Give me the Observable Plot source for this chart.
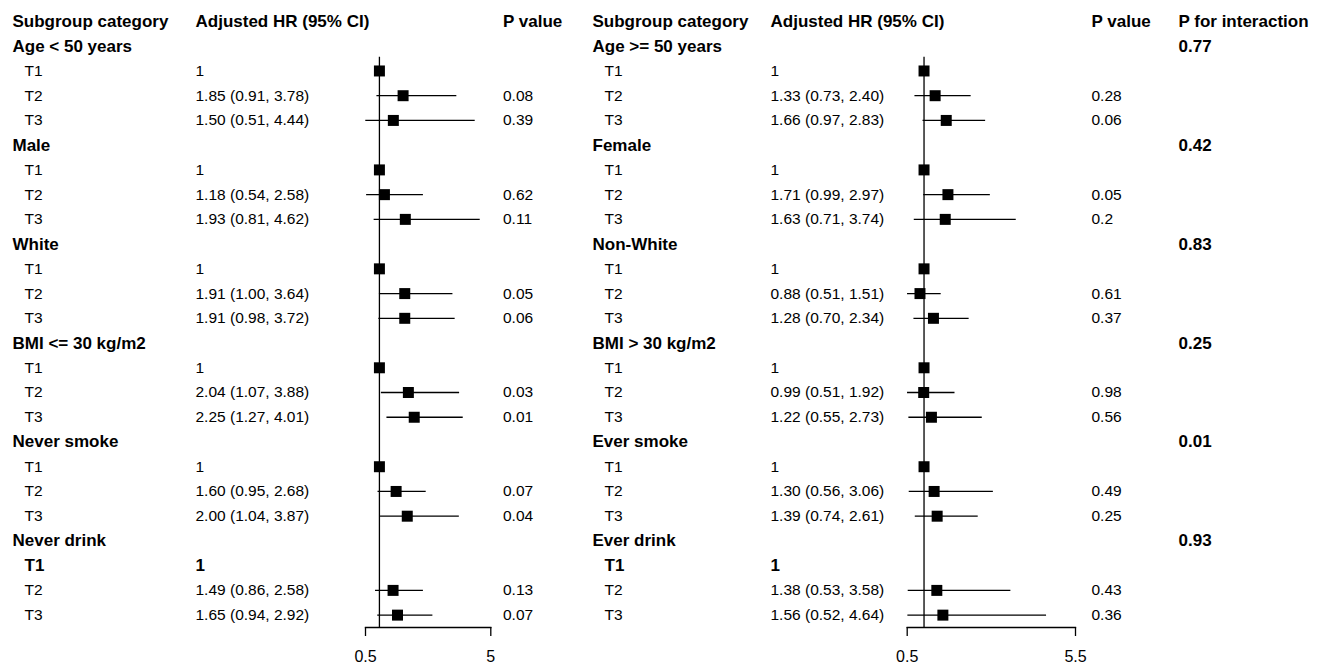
<!DOCTYPE html>
<html>
<head>
<meta charset="utf-8">
<script src="https://cdn.jsdelivr.net/npm/d3@7"></script>
<script src="https://cdn.jsdelivr.net/npm/@observablehq/plot@0.6"></script>
<style>
  html, body { margin: 0; padding: 0; background: #fff; }
  #wrap { display: flex; width: 1323px; height: 668px; }
  svg { font-family: "Liberation Sans", Arial, Helvetica, sans-serif; }
</style>
</head>
<body>
<div id="wrap"></div>
<script>
// ---------------- data ----------------
const headers = ["Subgroup category", "Adjusted HR (95% CI)", "P value", "P for interaction"];
const levels = ["T1", "T2", "T3"];

const leftGroups = ["Age < 50 years", "Male", "White", "BMI <= 30 kg/m2", "Never smoke", "Never drink"];
const leftHR   = [[1, 1.85, 1.50], [1, 1.18, 1.93], [1, 1.91, 1.91], [1, 2.04, 2.25], [1, 1.60, 2.00], [1, 1.49, 1.65]];
const leftLow  = [[null, 0.91, 0.51], [null, 0.54, 0.81], [null, 1.00, 0.98], [null, 1.07, 1.27], [null, 0.95, 1.04], [null, 0.86, 0.94]];
const leftHigh = [[null, 3.78, 4.44], [null, 2.58, 4.62], [null, 3.64, 3.72], [null, 3.88, 4.01], [null, 2.68, 3.87], [null, 2.58, 2.92]];
const leftP    = [["", "0.08", "0.39"], ["", "0.62", "0.11"], ["", "0.05", "0.06"], ["", "0.03", "0.01"], ["", "0.07", "0.04"], ["", "0.13", "0.07"]];

const rightGroups = ["Age >= 50 years", "Female", "Non-White", "BMI > 30 kg/m2", "Ever smoke", "Ever drink"];
const rightHR   = [[1, 1.33, 1.66], [1, 1.71, 1.63], [1, 0.88, 1.28], [1, 0.99, 1.22], [1, 1.30, 1.39], [1, 1.38, 1.56]];
const rightLow  = [[null, 0.73, 0.97], [null, 0.99, 0.71], [null, 0.51, 0.70], [null, 0.51, 0.55], [null, 0.56, 0.74], [null, 0.53, 0.52]];
const rightHigh = [[null, 2.40, 2.83], [null, 2.97, 3.74], [null, 1.51, 2.34], [null, 1.92, 2.73], [null, 3.06, 2.61], [null, 3.58, 4.64]];
const rightP    = [["", "0.28", "0.06"], ["", "0.05", "0.2"], ["", "0.61", "0.37"], ["", "0.98", "0.56"], ["", "0.49", "0.25"], ["", "0.43", "0.36"]];

const pInteraction = ["0.77", "0.42", "0.83", "0.25", "0.01", "0.93"];

const leftTicks = [0.5, 5];
const rightTicks = [0.5, 5.5];

// groups whose reference (T1) row is printed bold and has no marker
const noRefMarker = ["Never drink", "Ever drink"];

// ---------------- build rows ----------------
const f2 = d3.format(".2f");
function buildRows(groups, hr, lo, hi, p, inter) {
  const rows = [];
  groups.forEach((g, i) => {
    const base = 1 + i * 4;
    rows.push({row: base, kind: "group", label: g, inter: inter ? inter[i] : ""});
    levels.forEach((lv, k) => {
      const ref = lo[i][k] == null;
      const hidden = ref && noRefMarker.includes(g);
      rows.push({
        row: base + 1 + k, kind: "level", label: lv,
        hr: hr[i][k], lo: lo[i][k], hi: hi[i][k], p: p[i][k],
        ref, hidden, bold: hidden,
        est: ref ? String(hr[i][k]) : `${f2(hr[i][k])} (${f2(lo[i][k])}, ${f2(hi[i][k])})`
      });
    });
  });
  return rows;
}

const leftRows = buildRows(leftGroups, leftHR, leftLow, leftHigh, leftP, null);
const rightRows = buildRows(rightGroups, rightHR, rightLow, rightHigh, rightP, pInteraction);

// ---------------- layout ----------------
const H = 668, TOP = 21, AXIS_Y = 627;
const ROW_MAX = 24.5;
const FS = 15.5, FSB = 17;

function panel({rows, ticks, svgLeft, width, x0, x1, cols, withInter}) {
  const marginLeft = x0 - svgLeft;
  const marginRight = svgLeft + width - x1;
  const dx = (abs) => abs - svgLeft - marginLeft;

  const groupRows = rows.filter(d => d.kind === "group");
  const lvRegular = rows.filter(d => d.kind === "level" && !d.bold);
  const lvBold = rows.filter(d => d.kind === "level" && d.bold);
  const est = rows.filter(d => d.kind === "level" && !d.hidden);
  const ci = est.filter(d => d.lo != null);
  const firstLevelRow = d3.min(rows.filter(d => d.kind === "level"), d => d.row);

  const txt = (data, text, col, bold) => Plot.text(data, {
    y: "row", text, frameAnchor: "left", dx: dx(col), textAnchor: "start",
    fontSize: bold ? FSB : FS, fontWeight: bold ? "bold" : "normal", fill: "black"
  });

  const headerData = [{row: 0}];
  const marks = [
    Plot.frame({anchor: "bottom", stroke: "black", strokeWidth: 1.3}),
    Plot.axisX({ticks, tickSize: 9, tickPadding: 14, fontSize: 16, tickFormat: d => String(d), strokeWidth: 1.3, label: null, stroke: "black", fill: "black"}),
    Plot.ruleX([1], {y1: firstLevelRow - 0.55, y2: ROW_MAX, stroke: "black", strokeWidth: 1.3}),
    Plot.ruleY(ci, {y: "row", x1: "lo", x2: "hi", stroke: "black", strokeWidth: 1.3}),
    Plot.dot(est, {x: "hr", y: "row", symbol: "square", r: 6.2, fill: "black", stroke: null}),
    // headers
    txt(headerData, () => headers[0], cols.group, true),
    txt(headerData, () => headers[1], cols.est, true),
    txt(headerData, () => headers[2], cols.p, true),
    // group labels
    txt(groupRows, "label", cols.group, true),
    // level rows
    txt(lvRegular, "label", cols.level, false),
    txt(lvRegular, "est", cols.est, false),
    txt(lvRegular, "p", cols.p, false),
    txt(lvBold, "label", cols.level, true),
    txt(lvBold, "est", cols.est, true),
    txt(lvBold, "p", cols.p, true)
  ];
  if (withInter) {
    marks.push(txt(headerData, () => headers[3], cols.inter, true));
    marks.push(txt(groupRows, "inter", cols.inter, true));
  }

  return Plot.plot({
    width, height: H,
    marginTop: TOP, marginBottom: H - AXIS_Y,
    marginLeft, marginRight,
    x: {type: "linear", domain: [ticks[0], ticks[ticks.length - 1]], axis: null},
    y: {type: "linear", domain: [0, ROW_MAX], reverse: true, axis: null},
    style: {fontFamily: "'Liberation Sans', Arial, Helvetica, sans-serif", overflow: "visible", background: "white", color: "black"},
    marks
  });
}

const wrap = document.getElementById("wrap");
wrap.appendChild(panel({
  rows: leftRows, ticks: leftTicks, svgLeft: 0, width: 580, x0: 365, x1: 490.3,
  cols: {group: 12, level: 24, est: 195, p: 502.5}, withInter: false
}));
wrap.appendChild(panel({
  rows: rightRows, ticks: rightTicks, svgLeft: 580, width: 743, x0: 906.7, x1: 1075,
  cols: {group: 592, level: 604, est: 770, p: 1091, inter: 1178}, withInter: true
}));
</script>
</body>
</html>
